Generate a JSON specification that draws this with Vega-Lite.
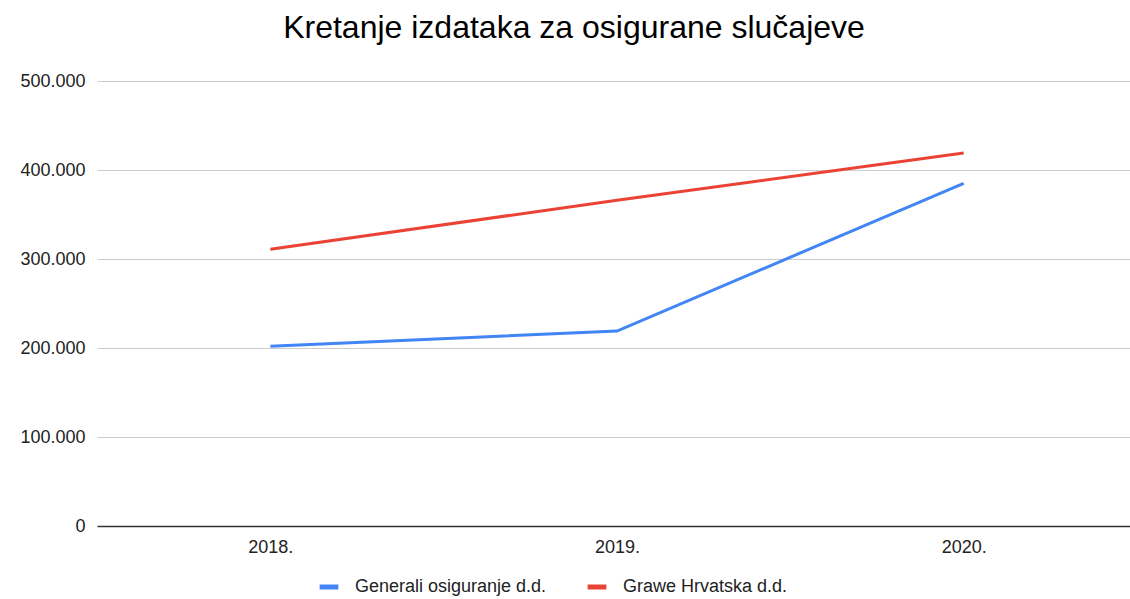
{
  "$schema": "https://vega.github.io/schema/vega-lite/v6.json",
  "autosize": "none",
  "width": 1040,
  "height": 445,
  "padding": {"left": 97, "top": 81, "right": 0, "bottom": 73},
  "background": "white",
  "title": {
    "text": "Kretanje izdataka za osigurane slučajeve",
    "font": "Liberation Sans",
    "fontSize": 32,
    "fontWeight": "normal",
    "color": "#000000",
    "anchor": "middle",
    "dx": -43,
    "offset": 27
  },
  "data": {
    "values": [
      {"godina": "2018.", "serija": "Generali osiguranje d.d.", "iznos": 202000},
      {"godina": "2019.", "serija": "Generali osiguranje d.d.", "iznos": 219000},
      {"godina": "2020.", "serija": "Generali osiguranje d.d.", "iznos": 385000},
      {"godina": "2018.", "serija": "Grawe Hrvatska d.d.", "iznos": 311000},
      {"godina": "2019.", "serija": "Grawe Hrvatska d.d.", "iznos": 366000},
      {"godina": "2020.", "serija": "Grawe Hrvatska d.d.", "iznos": 419000}
    ]
  },
  "mark": {"type": "line", "strokeWidth": 3, "clip": false},
  "encoding": {
    "x": {
      "field": "godina",
      "type": "ordinal",
      "scale": {"type": "point", "padding": 0.5},
      "axis": {
        "title": null,
        "labelAngle": 0,
        "labelFont": "Liberation Sans",
        "labelFontSize": 18,
        "labelColor": "#222222",
        "labelPadding": 12,
        "ticks": false,
        "domainColor": "#333333",
        "domainWidth": 1.5,
        "grid": false
      }
    },
    "y": {
      "field": "iznos",
      "type": "quantitative",
      "scale": {"domain": [0, 500000], "nice": false},
      "axis": {
        "title": null,
        "values": [0, 100000, 200000, 300000, 400000, 500000],
        "labelExpr": "replace(format(datum.value, ','), regexp(',', 'g'), '.')",
        "labelFont": "Liberation Sans",
        "labelFontSize": 18,
        "labelColor": "#222222",
        "labelPadding": 12,
        "ticks": false,
        "domain": false,
        "grid": true,
        "gridColor": "#cccccc",
        "gridWidth": 1
      }
    },
    "color": {
      "field": "serija",
      "type": "nominal",
      "scale": {
        "domain": ["Generali osiguranje d.d.", "Grawe Hrvatska d.d."],
        "range": ["#4285F4", "#EA4335"]
      },
      "legend": {
        "title": null,
        "orient": "none",
        "direction": "horizontal",
        "legendX": 220,
        "legendY": 494,
        "symbolType": "stroke",
        "symbolStrokeWidth": 5,
        "symbolSize": 350,
        "labelFont": "Liberation Sans",
        "labelFontSize": 18,
        "labelLimit": 400,
        "labelColor": "#222222",
        "labelOffset": 14,
        "columnPadding": 30
      }
    }
  },
  "config": {"view": {"stroke": null}}
}
